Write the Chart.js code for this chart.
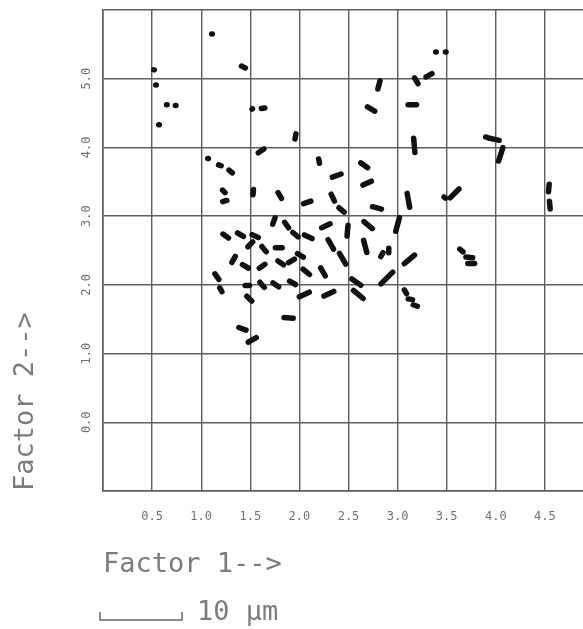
<!DOCTYPE html>
<html lang="en">
<head>
  <meta charset="UTF-8" />
  <title>Factor map</title>
  <script src="https://cdn.jsdelivr.net/npm/chart.js"></script>
  <style>
    body { margin: 0; background: #fff; overflow: hidden; }
  </style>
</head>
<body>
  <canvas id="factorChart" width="594" height="629"></canvas>

  <script>
    // one entry per cell: position on the two factors, length (µm) and orientation (deg)
    const factor1 = [1.11, 0.52, 0.54, 0.65, 0.74, 0.57, 1.43, 1.52, 1.63, 1.96, 1.61, 1.07, 1.19, 1.30,
      3.39, 3.49, 2.81, 3.19, 3.32, 2.73, 3.15, 3.17, 3.98, 4.05, 3.90,
      2.20, 2.66, 2.38, 2.69, 1.23, 1.24, 1.53, 1.80, 2.08, 2.34, 2.43, 2.79, 3.11, 3.48, 3.58, 4.54, 4.55,
      1.74, 1.87, 1.96, 1.25, 1.40, 1.55, 2.09, 2.27, 2.49, 2.70, 3.00,
      1.50, 1.64, 1.79, 2.32, 2.67, 2.84, 2.91, 3.12,
      1.33, 1.45, 1.62, 1.81, 1.92, 2.01, 2.07, 2.24, 2.44, 3.65, 3.73, 3.75,
      1.16, 1.20, 1.47, 1.62, 1.76, 1.93, 2.58, 2.89,
      1.49, 2.05, 2.30, 2.60, 3.08, 3.13, 3.18, 1.89, 1.42, 1.52];
    const factor2 = [5.65, 5.13, 4.91, 4.62, 4.61, 4.33, 5.17, 4.56, 4.57, 4.16, 3.95, 3.84, 3.74, 3.65,
      5.39, 5.39, 4.91, 4.97, 5.05, 4.56, 4.62, 4.03, 4.12, 3.90, 4.15,
      3.80, 3.74, 3.59, 3.48, 3.36, 3.22, 3.35, 3.30, 3.20, 3.27, 3.09, 3.12, 3.23, 3.27, 3.33, 3.41, 3.16,
      2.93, 2.87, 2.73, 2.71, 2.73, 2.71, 2.70, 2.86, 2.79, 2.87, 2.88,
      2.59, 2.52, 2.54, 2.59, 2.56, 2.44, 2.50, 2.37,
      2.37, 2.27, 2.27, 2.32, 2.35, 2.43, 2.19, 2.19, 2.38, 2.50, 2.40, 2.31,
      2.12, 1.93, 1.99, 2.00, 2.00, 2.03, 2.04, 2.10,
      1.80, 1.86, 1.87, 1.86, 1.90, 1.79, 1.70, 1.52, 1.36, 1.20];
    const lengthUm = [0.6, 0.7, 0.6, 0.6, 0.6, 0.7, 1.2, 0.7, 1.1, 1.3, 1.5, 0.6, 1.0, 1.2,
      0.7, 0.7, 1.7, 1.5, 1.5, 1.7, 1.7, 2.4, 2.0, 2.4, 0.6,
      1.2, 1.7, 1.8, 1.8, 1.1, 1.2, 1.3, 1.5, 1.6, 1.6, 1.5, 1.8, 2.4, 0.9, 2.2, 1.6, 1.6,
      1.5, 1.5, 1.5, 1.5, 1.5, 1.5, 1.7, 1.8, 2.0, 2.0, 2.4,
      1.5, 1.5, 1.5, 2.0, 2.2, 1.2, 1.2, 2.3,
      1.5, 1.5, 1.5, 1.5, 1.5, 1.5, 1.7, 1.8, 2.2, 1.2, 1.5, 1.5,
      1.5, 1.2, 1.2, 1.5, 1.5, 1.5, 2.0, 2.7,
      1.5, 2.0, 2.0, 2.2, 1.2, 1.2, 1.2, 1.8, 1.6, 1.8];
    const angleDeg = [0, 10, 0, 0, 0, 0, 25, -45, -10, -80, -35, 0, 20, 40,
      0, 0, -75, 60, -30, 30, 0, 85, 12, 108, 0,
      80, 35, -20, -25, 45, -15, 95, 60, -20, 65, 40, 15, 80, 40, -45, 95, 85,
      -70, 55, 40, 35, 30, 25, 25, -25, 95, 40, -75,
      -45, 50, 0, 60, 75, -60, 90, -40,
      -60, 30, -35, 35, -30, 30, 40, 60, 60, 40, 5, 0,
      55, 60, 0, 50, 35, 30, 35, -45,
      45, -25, -25, 40, 60, 10, 20, 5, 20, -30];

    const xLabeled = [0.5, 1.0, 1.5, 2.0, 2.5, 3.0, 3.5, 4.0, 4.5];
    const yLabeled = [0.0, 1.0, 2.0, 3.0, 4.0, 5.0];

    const pxPerUm = 8.2;   // 10 µm bar is 82 px
    const rodWidth = 5.5;
    const textGray = '#7c7c7c';
    const gridGray = '#5e5e5e';

    const points = factor1.map((x, i) => ({ x: x, y: factor2[i] }));

    // round ends on the rods, and the 10 µm scale bar under the axis title
    const rodsAndBar = {
      id: 'rodsAndBar',
      beforeDatasetsDraw(chart) { chart.ctx.lineCap = 'round'; },
      afterDatasetsDraw(chart) { chart.ctx.lineCap = 'butt'; },
      afterDraw(chart) {
        const ctx = chart.ctx;
        const area = chart.chartArea;
        const x0 = area.left - 3;
        const barW = 10 * pxPerUm;
        const yb = area.bottom + 129;
        ctx.save();
        ctx.strokeStyle = '#6a6a6a';
        ctx.lineWidth = 1.5;
        ctx.beginPath();
        ctx.moveTo(x0, yb - 8);
        ctx.lineTo(x0, yb);
        ctx.lineTo(x0 + barW, yb);
        ctx.lineTo(x0 + barW, yb - 8);
        ctx.stroke();
        ctx.fillStyle = textGray;
        ctx.font = '27px "DejaVu Sans Mono"';
        ctx.textBaseline = 'middle';
        ctx.fillText('10 µm', x0 + barW + 15, yb - 7);
        ctx.restore();
      }
    };

    const ctx = document.getElementById('factorChart').getContext('2d');
    new Chart(ctx, {
      type: 'scatter',
      data: {
        datasets: [{
          data: points,
          pointStyle: 'line',
          pointRadius: c => Math.max(0.3, (lengthUm[c.dataIndex] * pxPerUm - rodWidth) / 2),
          pointRotation: c => angleDeg[c.dataIndex],
          pointBorderWidth: rodWidth,
          pointBorderColor: '#111',
          pointBackgroundColor: '#111'
        }]
      },
      options: {
        responsive: false,
        animation: false,
        events: [],
        layout: { autoPadding: false, padding: { top: 10, right: 0, bottom: 0, left: 0 } },
        plugins: { legend: { display: false }, tooltip: { enabled: false } },
        scales: {
          x: {
            type: 'linear',
            min: 0,
            max: 5,
            afterFit: s => { s.height = 138; s.paddingLeft = 0; s.paddingRight = 0; },
            ticks: {
              stepSize: 0.5,
              maxRotation: 0,
              padding: 19,
              color: '#707070',
              font: { family: 'DejaVu Sans Mono', size: 12 },
              callback: v => xLabeled.includes(v) ? v.toFixed(1) : ''
            },
            grid: { color: gridGray, lineWidth: 1.4, drawTicks: false },
            border: { color: gridGray, width: 1.6 },
            title: {
              display: true,
              text: 'Factor 1-->',
              align: 'start',
              color: textGray,
              font: { family: 'DejaVu Sans Mono', size: 27 },
              padding: { top: 0, bottom: 48 }
            }
          },
          y: {
            type: 'linear',
            min: -1,
            max: 6,
            afterFit: s => { s.width = 103; s.paddingTop = 0; s.paddingBottom = 0; },
            ticks: {
              stepSize: 1,
              minRotation: 90,
              maxRotation: 90,
              crossAlign: 'center',
              padding: 5,
              color: '#707070',
              font: { family: 'DejaVu Sans Mono', size: 12 },
              callback: v => yLabeled.includes(v) ? v.toFixed(1) : ''
            },
            grid: { color: gridGray, lineWidth: 1.4, drawTicks: false },
            border: { color: gridGray, width: 1.6 },
            title: {
              display: true,
              text: 'Factor 2-->',
              align: 'start',
              color: textGray,
              font: { family: 'DejaVu Sans Mono', size: 27 },
              padding: { top: 10, bottom: 0 }
            }
          }
        }
      },
      plugins: [rodsAndBar]
    });
  </script>
</body>
</html>
